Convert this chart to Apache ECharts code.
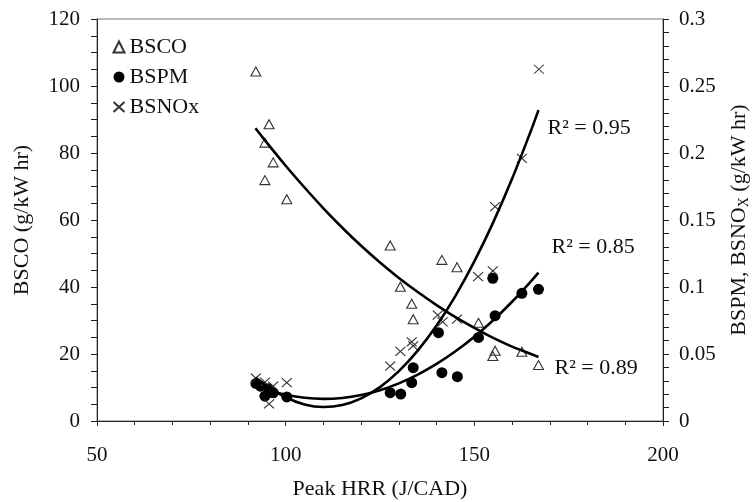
<!DOCTYPE html>
<html>
<head>
<meta charset="utf-8">
<script src="https://cdn.jsdelivr.net/npm/echarts@6/dist/echarts.min.js"></script>
<style>html,body{margin:0;padding:0;background:#fff}#c{width:753px;height:502px}</style>
</head>
<body>
<div id="c"></div>
<script>
// ---- data ----
const bscoX = [92.1, 95.6, 94.5, 96.7, 94.5, 100.3, 127.7, 141.4, 145.4, 130.4, 133.4, 133.8, 151.1, 155.5, 154.9, 162.6, 167.0];
const bscoY = [104.3, 88.6, 83.1, 77.2, 71.9, 66.2, 52.4, 48.1, 45.9, 40.1, 35.0, 30.4, 29.3, 21.0, 19.4, 20.7, 16.7];

const bspmX = [92.1, 93.3, 94.5, 95.5, 96.7, 100.3, 127.7, 130.5, 133.4, 133.8, 140.5, 141.4, 145.5, 151.1, 154.9, 155.5, 162.6, 167.0];
const bspmY = [0.028, 0.026, 0.0185, 0.024, 0.021, 0.018, 0.0211, 0.0201, 0.0286, 0.0398, 0.0659, 0.0361, 0.0331, 0.0624, 0.1065, 0.0786, 0.0953, 0.0983];

const bsnoxX = [92.1, 94.5, 95.6, 96.7, 100.3, 127.7, 130.4, 133.4, 133.8, 140.3, 141.6, 145.4, 151.0, 154.9, 155.5, 162.6, 167.1];
const bsnoxY = [0.032, 0.029, 0.0127, 0.026, 0.0286, 0.041, 0.052, 0.059, 0.056, 0.079, 0.074, 0.076, 0.1077, 0.112, 0.160, 0.196, 0.2625];

// trend lines
const fitX = [92, 95, 100, 105, 110, 115, 120, 125, 130, 135, 140, 145, 150, 155, 160, 165, 167];
const bscoFit = [87.4, 83.1, 76.2, 69.7, 63.5, 57.7, 52.3, 47.3, 42.7, 38.5, 34.6, 31.0, 27.8, 24.8, 22.2, 20.0, 19.1];
const bspmFit = [0.0270, 0.0232, 0.0196, 0.0173, 0.0165, 0.0172, 0.0194, 0.0230, 0.0281, 0.0346, 0.0426, 0.0520, 0.0629, 0.0752, 0.0890, 0.1042, 0.1107];
const bsnoxFit = [0.0325, 0.0262, 0.0177, 0.0123, 0.0104, 0.0119, 0.0169, 0.0253, 0.0372, 0.0525, 0.0712, 0.0934, 0.1191, 0.1482, 0.1807, 0.2166, 0.2320];

const r2Labels = ['R² = 0.89', 'R² = 0.85', 'R² = 0.95'];
const legendNames = ['BSCO', 'BSPM', 'BSNOx'];

const xTicks = { min: 50, max: 200, interval: 50 };
const yLeftTicks = { min: 0, max: 120, interval: 20 };
const yRightTicks = { min: 0, max: 0.3, interval: 0.05 };

// ---- chart ----
const FONT = '"Liberation Serif", "Times New Roman", serif';
const zip = (xs, ys) => xs.map((x, i) => [x, ys[i]]);

const axisCommon = {
  axisLine: { show: true, lineStyle: { color: '#222', width: 1 } },
  axisTick: { show: true, inside: false, length: 6, lineStyle: { color: '#222', width: 1 } },
  minorTick: { show: true, length: 6, lineStyle: { color: '#222', width: 1 } },
  splitLine: { show: false },
  axisLabel: { color: '#111', fontFamily: FONT, fontSize: 21 },
  nameTextStyle: { color: '#111', fontFamily: FONT, fontSize: 22 }
};

const chart = echarts.init(document.getElementById('c'), null, { renderer: 'canvas' });
chart.setOption({
  animation: false,
  backgroundColor: '#fff',
  grid: {
    left: 97, right: 90, top: 19, bottom: 81,
    outerBoundsMode: 'none', containLabel: false,
    show: true, borderColor: '#777', borderWidth: 1, backgroundColor: 'transparent'
  },
  legend: {
    data: legendNames,
    orient: 'vertical',
    left: 106, top: 31,
    itemWidth: 11, itemHeight: 11, itemGap: 8,
    textStyle: { fontFamily: FONT, fontSize: 22, color: '#111' }
  },
  xAxis: Object.assign({}, axisCommon, {
    type: 'value', min: xTicks.min, max: xTicks.max, interval: xTicks.interval,
    minorTick: Object.assign({}, axisCommon.minorTick, { splitNumber: 5, length: 4 }),
    axisTick: Object.assign({}, axisCommon.axisTick, { length: 5 }),
    axisLabel: Object.assign({}, axisCommon.axisLabel, { margin: 24 }),
    name: 'Peak HRR (J/CAD)', nameLocation: 'middle', nameGap: 57
  }),
  yAxis: [
    Object.assign({}, axisCommon, {
      type: 'value', position: 'left', min: yLeftTicks.min, max: yLeftTicks.max, interval: yLeftTicks.interval,
      minorTick: Object.assign({}, axisCommon.minorTick, { splitNumber: 4 }),
      axisLabel: Object.assign({}, axisCommon.axisLabel, { margin: 17 }),
      name: 'BSCO (g/kW hr)', nameLocation: 'middle', nameGap: 64, nameRotate: 90
    }),
    Object.assign({}, axisCommon, {
      type: 'value', position: 'right', min: yRightTicks.min, max: yRightTicks.max, interval: yRightTicks.interval,
      minorTick: Object.assign({}, axisCommon.minorTick, { splitNumber: 5 }),
      axisLabel: Object.assign({}, axisCommon.axisLabel, { margin: 16 }),
      name: 'BSPM, BSNO{sub|X} (g/kW hr)', nameLocation: 'middle', nameGap: 64, nameRotate: 90,
      nameTextStyle: {
        color: '#111', fontFamily: FONT, fontSize: 22,
        rich: { sub: { fontFamily: FONT, fontSize: 14, color: '#111', verticalAlign: 'bottom', padding: [10, 0, 0, 0] } }
      }
    })
  ],
  series: [
    {
      name: 'BSCO', type: 'scatter', yAxisIndex: 0, data: zip(bscoX, bscoY),
      symbol: 'triangle', symbolSize: [10, 9],
      itemStyle: { color: 'rgba(255,255,255,0)', borderColor: '#333', borderWidth: 1.1, opacity: 1 }, z: 3
    },
    {
      name: 'BSPM', type: 'scatter', yAxisIndex: 1, data: zip(bspmX, bspmY),
      symbol: 'circle', symbolSize: 11,
      itemStyle: { color: '#000', opacity: 1 }, z: 3
    },
    {
      name: 'BSNOx', type: 'scatter', yAxisIndex: 1, data: zip(bsnoxX, bsnoxY),
      symbol: 'path://M0,0L10,9M10,0L0,9', symbolSize: [10, 9],
      itemStyle: { color: 'none', borderColor: '#333', borderWidth: 1.1, opacity: 1 }, z: 3
    },
    {
      name: 'fitCO', type: 'line', yAxisIndex: 0, data: zip(fitX, bscoFit), smooth: 0.3,
      showSymbol: false, symbol: 'none', lineStyle: { color: '#000', width: 2.6 }, z: 4,
      endLabel: { show: true, formatter: r2Labels[0], offset: [8, 11], fontFamily: FONT, fontSize: 22, color: '#111' }
    },
    {
      name: 'fitPM', type: 'line', yAxisIndex: 1, data: zip(fitX, bspmFit), smooth: 0.3,
      showSymbol: false, symbol: 'none', lineStyle: { color: '#000', width: 2.6 }, z: 4,
      endLabel: { show: true, formatter: r2Labels[1], offset: [5, -25], fontFamily: FONT, fontSize: 22, color: '#111' }
    },
    {
      name: 'fitNOx', type: 'line', yAxisIndex: 1, data: zip(fitX, bsnoxFit), smooth: 0.3,
      showSymbol: false, symbol: 'none', lineStyle: { color: '#000', width: 2.6 }, z: 4,
      endLabel: { show: true, formatter: r2Labels[2], offset: [1, 18], fontFamily: FONT, fontSize: 22, color: '#111' }
    }
  ]
});
</script>
</body>
</html>
